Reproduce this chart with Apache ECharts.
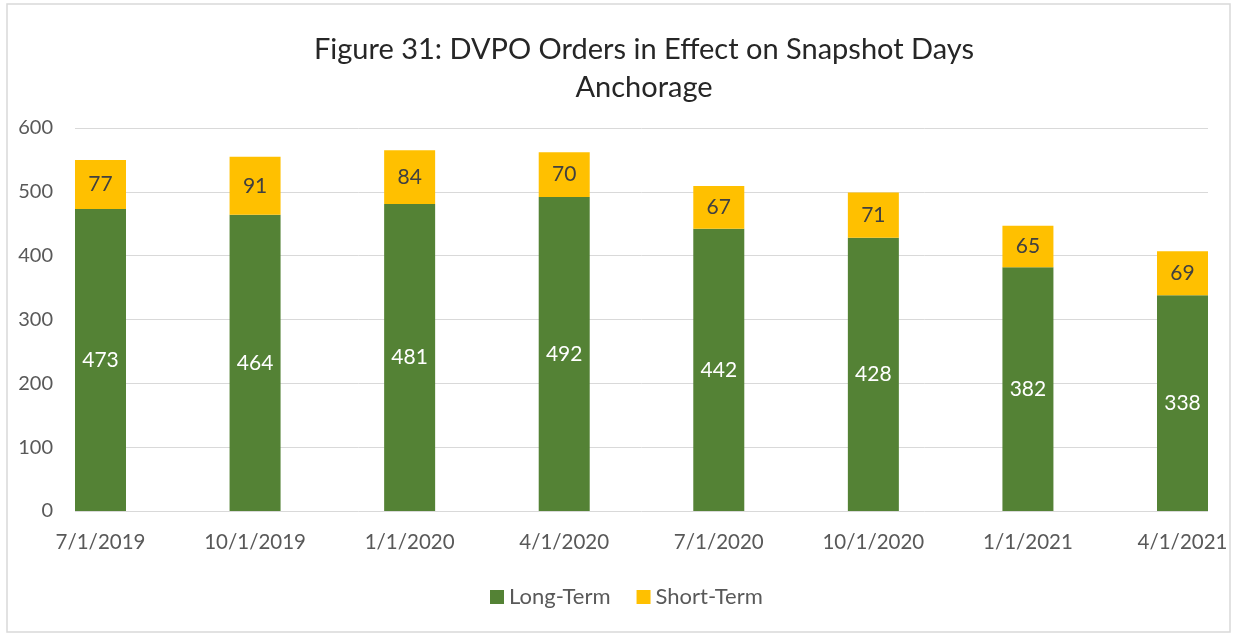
<!DOCTYPE html>
<html>
<head>
<meta charset="utf-8">
<script src="https://cdn.jsdelivr.net/npm/echarts@6/dist/echarts.min.js"></script>
<style>
  html, body { margin: 0; padding: 0; background: #fff; }
  #chart { width: 1233px; height: 635px; }
</style>
</head>
<body>
<div id="chart"></div>
<script>
const categories = ["7/1/2019", "10/1/2019", "1/1/2020", "4/1/2020", "7/1/2020", "10/1/2020", "1/1/2021", "4/1/2021"];
const longTerm = [473, 464, 481, 492, 442, 428, 382, 338];
const shortTerm = [77, 91, 84, 70, 67, 71, 65, 69];

const font = "Lato, 'Open Sans', sans-serif";

const option = {
  backgroundColor: "#ffffff",
  animation: false,
  title: {
    text: "Figure 31: DVPO Orders in Effect on Snapshot Days\nAnchorage",
    left: 639,
    textAlign: "center",
    top: 26,
    textStyle: {
      color: "#262626",
      fontSize: 29,
      fontWeight: "normal",
      fontFamily: font,
      lineHeight: 38
    }
  },
  legend: {
    bottom: 22,
    left: 485,
    itemWidth: 14,
    itemHeight: 14,
    itemGap: 26,
    icon: "rect",
    textStyle: { color: "#595959", fontSize: 22, fontFamily: font },
    data: ["Long-Term", "Short-Term"]
  },
  grid: [
    // bars: ticks at the bar centres
    { left: 100.5, right: 50.5, top: 128, bottom: 124 },
    // gridlines and y labels: full plot width
    { left: 75, right: 25, top: 128, bottom: 124 }
  ],
  xAxis: [
    {
      type: "category",
      gridIndex: 0,
      data: categories,
      boundaryGap: false,
      axisLine: { show: false },
      axisTick: { show: false },
      splitLine: { show: false },
      axisLabel: {
        color: "#595959",
        fontSize: 20.5,
        fontFamily: font,
        margin: 21,
        interval: 0
      }
    },
    {
      type: "value",
      gridIndex: 1,
      show: false
    }
  ],
  yAxis: [
    {
      type: "value",
      gridIndex: 0,
      min: 0,
      max: 600,
      show: false,
      splitLine: { show: false }
    },
    {
      type: "value",
      gridIndex: 1,
      min: 0,
      max: 600,
      interval: 100,
      axisLine: { show: false },
      axisTick: { show: false },
      splitLine: { lineStyle: { color: "#d9d9d9", width: 1 } },
      axisLabel: {
        color: "#595959",
        fontSize: 20,
        fontFamily: font,
        margin: 22
      }
    }
  ],
  series: [
    {
      name: "Long-Term",
      type: "bar",
      stack: "total",
      barWidth: 51,
      clip: false,
      itemStyle: { color: "#548235" },
      label: {
        show: true,
        position: "inside",
        color: "#ffffff",
        fontSize: 21,
        fontFamily: font
      },
      data: longTerm
    },
    {
      name: "Short-Term",
      type: "bar",
      stack: "total",
      barWidth: 51,
      clip: false,
      itemStyle: { color: "#ffc000" },
      label: {
        show: true,
        position: "inside",
        color: "#404040",
        fontSize: 21,
        fontFamily: font
      },
      data: shortTerm
    }
  ],
  graphic: [
    {
      type: "rect",
      shape: { x: 7, y: 4, width: 1223, height: 628 },
      style: { fill: null, stroke: "#d9d9d9", lineWidth: 1.5 },
      silent: true
    }
  ]
};

const chart = echarts.init(document.getElementById("chart"));
chart.setOption(option);
</script>
</body>
</html>
